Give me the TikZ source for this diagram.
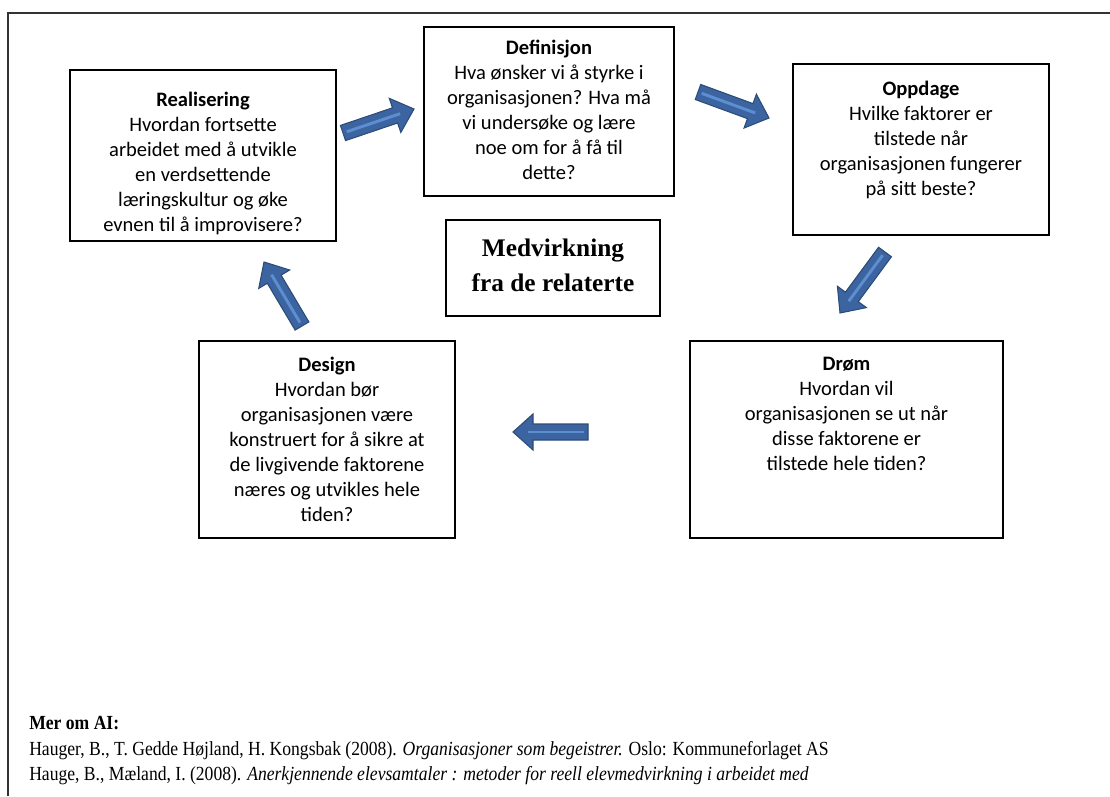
\documentclass[tikz,border=0pt]{standalone}
\usepackage{fontspec}
\setmainfont{Carlito}
\newfontfamily\timesfont{Liberation Serif}
\newfontfamily\reffont[FakeStretch=0.88]{Liberation Serif}
\usetikzlibrary{calc,fit}
\definecolor{arrfill}{RGB}{60,100,160}
\definecolor{arrline}{RGB}{44,76,120}
\definecolor{arrstripe}{RGB}{92,142,208}
\newcommand{\blockarrow}[2]{%
  \coordinate (ba-h) at ($(#2)!15pt!(#1)$);
  \filldraw[fill=arrfill, draw=arrline, line width=0.8pt, line join=miter]
    ($(#1)!6pt!90:(#2)$) -- ($(ba-h)!6pt!-90:(#1)$) -- ($(ba-h)!13.5pt!-90:(#1)$) -- (#2)
    -- ($(ba-h)!13.5pt!90:(#1)$) -- ($(ba-h)!6pt!90:(#1)$) -- ($(#1)!6pt!-90:(#2)$) -- cycle;
  \draw[arrstripe, line width=2.2pt] ($(#1)!3pt!(#2)$) -- ($(#2)!11pt!(#1)$);
}
\begin{document}
\begin{tikzpicture}[x=0.75pt,y=-0.75pt,
  box/.style={draw=black, line width=1.1pt, inner sep=0pt},
  boxtext/.style={anchor=north, align=center, inner sep=0pt, font=\fontsize{15.4}{18.75}\selectfont},
  reftext/.style={anchor=base west, inner sep=0pt, font=\reffont\fontsize{15}{19}\selectfont},
]
\useasboundingbox (0,0) rectangle (1110,796);
\draw[line width=1.5pt, black!80] (8,796) -- (8,13) -- (1110,13);

% boxes
\node[box, fit={(70,70) (336,241)}] (real) {};
\node[box, fit={(424,27) (674,196)}] (def) {};
\node[box, fit={(793,64) (1049,235)}] (opp) {};
\node[box, fit={(446,220) (660,316)}] (med) {};
\node[box, fit={(690,341) (1003,538)}] (drom) {};
\node[box, fit={(199,341) (455,538)}] (design) {};

% texts
\node[boxtext] (realt) at ($(real.north)+(0,23)$) {\textbf{Realisering}\\Hvordan fortsette\\arbeidet med å utvikle\\en verdsettende\\læringskultur og øke\\evnen til å improvisere?};
\node[boxtext] (deft) at ($(def.north)+(0,14)$) {\textbf{Definisjon}\\Hva ønsker vi å styrke i\\organisasjonen? Hva må\\vi undersøke og lære\\noe om for å få til\\dette?};
\node[boxtext] (oppt) at ($(opp.north)+(0,18)$) {\textbf{Oppdage}\\Hvilke faktorer er\\tilstede når\\organisasjonen fungerer\\på sitt beste?};
\node[boxtext] (dromt) at ($(drom.north)+(0,17)$) {\textbf{Drøm}\\Hvordan vil\\organisasjonen se ut når\\disse faktorene er\\tilstede hele tiden?};
\node[boxtext] (designt) at ($(design.north)+(0,17)$) {\textbf{Design}\\Hvordan bør\\organisasjonen være\\konstruert for å sikre at\\de livgivende faktorene\\næres og utvikles hele\\tiden?};
\node[align=center, inner sep=0pt, font=\timesfont\bfseries\fontsize{19}{26.5}\selectfont] (medt) at ($(med.center)+(0,-3)$) {Medvirkning\\fra de relaterte};

% arrows
\coordinate (a1s) at (343,133); \coordinate (a1e) at (414,109);
\coordinate (a2s) at (698,92);  \coordinate (a2e) at (769,118);
\coordinate (a3s) at (885,252); \coordinate (a3e) at (840,313);
\coordinate (a4s) at (588,432); \coordinate (a4e) at (513,432);
\coordinate (a5s) at (302,326); \coordinate (a5e) at (264,262);
\blockarrow{a1s}{a1e}
\blockarrow{a2s}{a2e}
\blockarrow{a3s}{a3e}
\blockarrow{a4s}{a4e}
\blockarrow{a5s}{a5e}

% references
\node[reftext, font=\reffont\fontsize{15}{19}\selectfont\bfseries] (refh) at (29,729) {Mer om AI:};
\node[reftext] (ref1) at (29,755) {Hauger, B., T. Gedde Højland, H. Kongsbak (2008). \textit{Organisasjoner som begeistrer.} Oslo: Kommuneforlaget AS};
\node[reftext] (ref2) at (29,780) {Hauge, B., Mæland, I. (2008). \textit{Anerkjennende elevsamtaler : metoder for reell elevmedvirkning i arbeidet med}};
\end{tikzpicture}
\end{document}
